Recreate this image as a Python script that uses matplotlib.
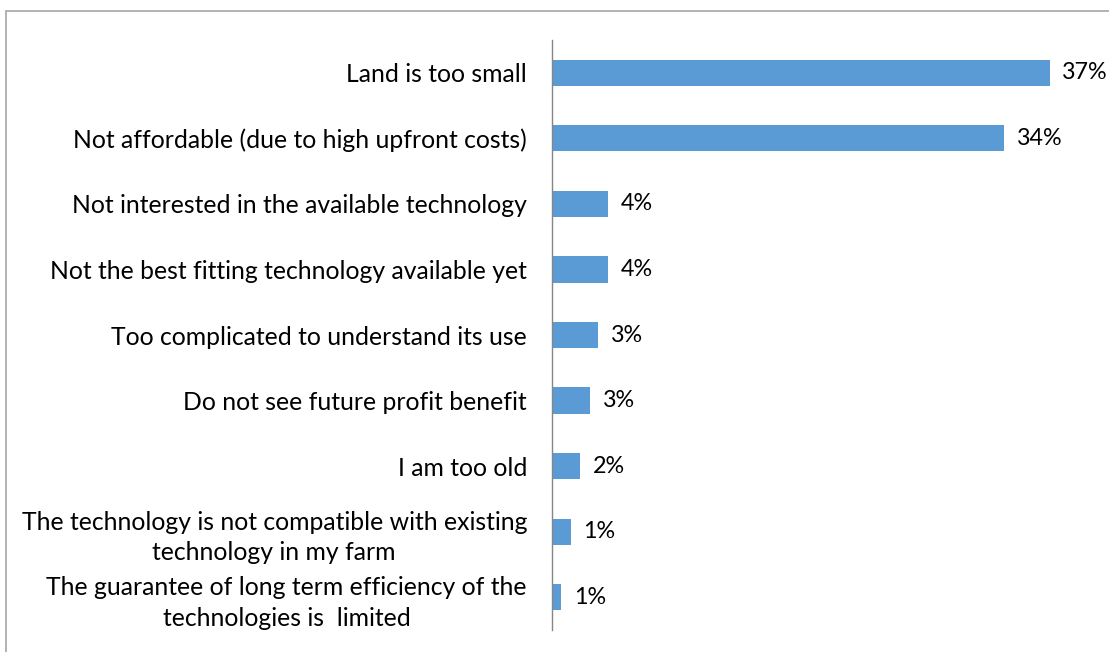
import matplotlib.pyplot as plt
from matplotlib.patches import Rectangle

reasons = [
    "Land is too small",
    "Not affordable (due to high upfront costs)",
    "Not interested in the available technology",
    "Not the best fitting technology available yet",
    "Too complicated to understand its use",
    "Do not see future profit benefit",
    "I am too old",
    "The technology is not compatible with existing\ntechnology in my farm",
    "The guarantee of long term efficiency of the\ntechnologies is  limited",
]
shares = [37.0, 33.6, 4.2, 4.2, 3.4, 2.8, 2.1, 1.4, 0.7]

plt.rcParams['font.family'] = ['Lato', 'DejaVu Sans']

fig = plt.figure(figsize=(11.09, 6.52), dpi=100)
# frame around the chart area (open to the right and bottom)
fig.patches.append(Rectangle((6 / 1109, -0.05), 1.2, 1 - 11 / 652 + 0.05,
                             transform=fig.transFigure, fill=False,
                             edgecolor='#a6a6a6', linewidth=1.2))

ax = fig.add_axes([552 / 1109, 22 / 652, 538 / 1109, 590 / 652])
pos = list(range(len(reasons)))
ax.barh(pos, shares, height=0.4, color='#5B9BD5')
ax.set_ylim(len(reasons) - 0.5, -0.5)
ax.set_xlim(0, 40)

for y, v in zip(pos, shares):
    ax.text(v + 0.95, y, '{:.0f}%'.format(v), va='center', ha='left', fontsize=16.8)

ax.set_yticks(pos)
ax.set_yticklabels(reasons, fontsize=17.8)
for lab in ax.get_yticklabels():
    lab.set_multialignment('center')
    lab.set_linespacing(1.4)
ax.tick_params(axis='y', length=0, pad=18)
ax.set_xticks([])

for s in ['top', 'right', 'bottom']:
    ax.spines[s].set_visible(False)
ax.spines['left'].set_color('#868686')
ax.spines['left'].set_linewidth(1.0)

fig.savefig('out.png', dpi=100)
